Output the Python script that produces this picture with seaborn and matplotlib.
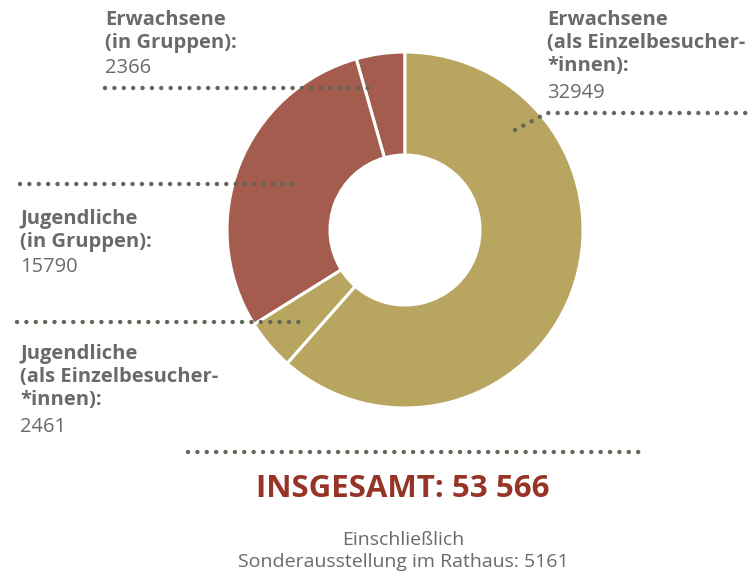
import matplotlib.pyplot as plt
import seaborn as sns

# Besucher*innen, gegen den Uhrzeigersinn ab 12 Uhr
groups = ["Erwachsene\n(in Gruppen):", "Jugendliche\n(in Gruppen):",
          "Jugendliche\n(als Einzelbesucher-\n*innen):",
          "Erwachsene\n(als Einzelbesucher-\n*innen):"]
visitors = [2366, 15790, 2461, 32949]
special_exhibition = 5161

GOLD = "#b8a660"
RUST = "#a35c4d"
slice_colors = [RUST, RUST, GOLD, GOLD]
GREY = "#6a6a6a"
DOTS = "#65665a"
W, H = 756, 575

sns.set_theme(style="white")
plt.rcParams["font.family"] = ["Open Sans", "DejaVu Sans"]

fig = plt.figure(figsize=(W / 100, H / 100), dpi=100)
ax = fig.add_axes([0, 0, 1, 1])


def py(y):
    # pixel row -> data y
    return H - y


ax.pie(visitors, colors=slice_colors, startangle=90, counterclock=True,
       center=(405, py(230)), radius=178,
       wedgeprops=dict(width=103, edgecolor="white", linewidth=2.2))
ax.set_xlim(0, W)
ax.set_ylim(0, H)
ax.set_aspect("equal")
ax.axis("off")


def dotted(xs, ys):
    ax.plot(xs, [py(v) for v in ys], color=DOTS, lw=3.2,
            linestyle=(0, (0.01, 2.1)), dash_capstyle="round", zorder=5)


dotted([105, 372], [88, 88])
dotted([20, 300], [184, 184])
dotted([17, 302], [322, 322])
dotted([188, 640], [452, 452])
dotted([515, 547, 752], [130, 113, 113])


def label(x, y, name, value):
    n = name.count("\n") + 1
    ax.text(x, py(y), name, ha="left", va="top", fontsize=14.5, fontweight="bold",
            color=GREY, linespacing=1.2)
    ax.text(x, py(y + n * 24.2), f"{value}", ha="left", va="top", fontsize=14.5,
            color=GREY)


label(105, 10, groups[0], visitors[0])
label(20, 209, groups[1], visitors[1])
label(20, 344, groups[2], visitors[2])
label(547, 10, groups[3], visitors[3])

total = sum(visitors)
total_txt = f"{total:,}".replace(",", " ")
ax.text(403, py(489), f"INSGESAMT: {total_txt}", ha="center", va="center",
        fontsize=22.5, fontweight="bold", color="#963427")
ax.text(403, py(551), f"Einschließlich\nSonderausstellung im Rathaus: {special_exhibition}",
        ha="center", va="center", fontsize=14, color=GREY, linespacing=1.28)

fig.savefig("out.png", dpi=100)
